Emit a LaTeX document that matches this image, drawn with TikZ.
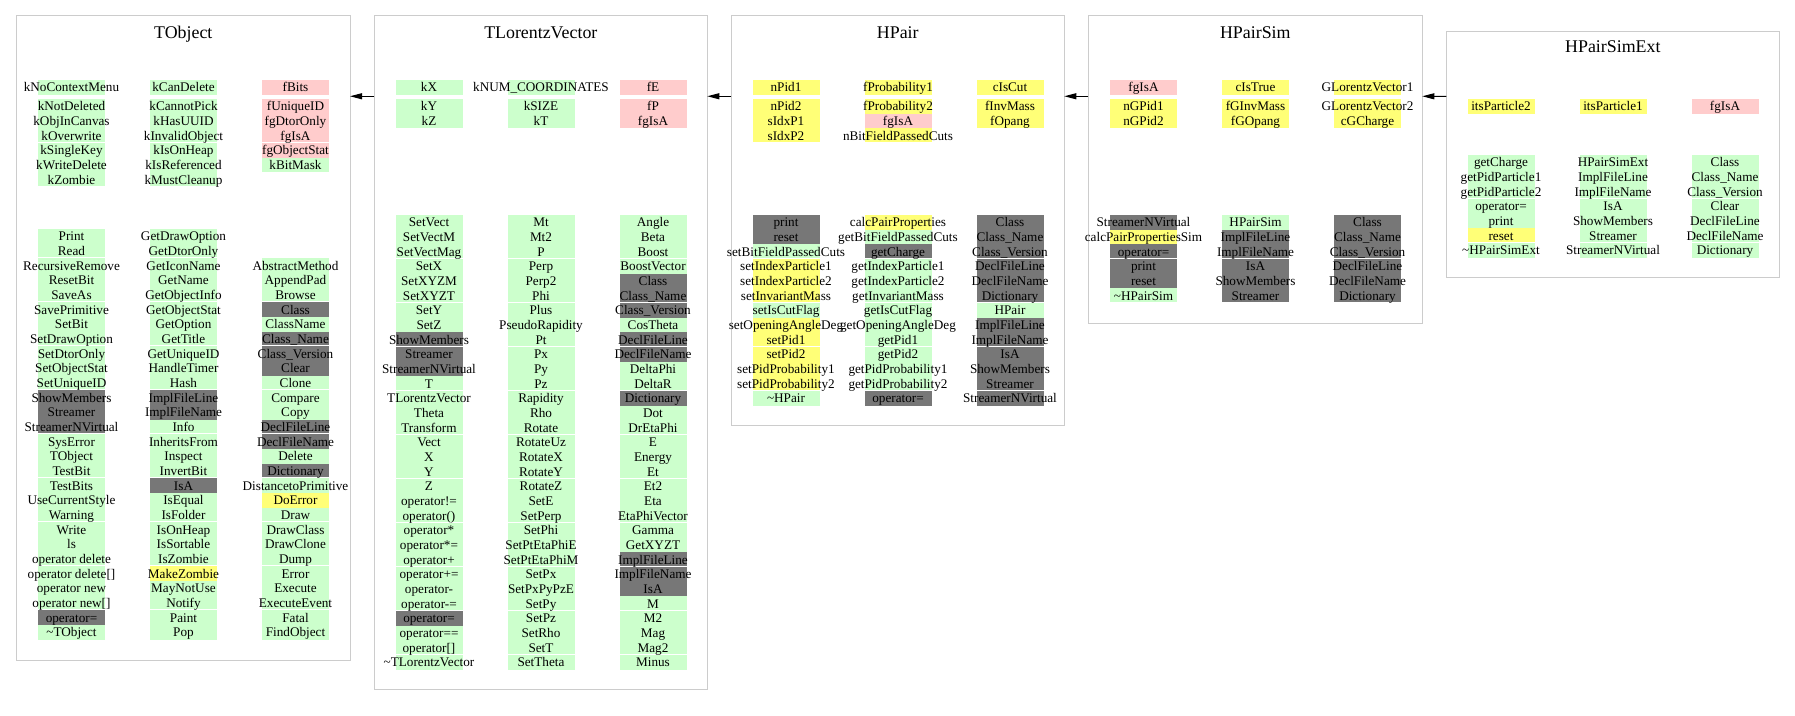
\documentclass[tikz,border=0pt]{standalone}
\usepackage{fontspec}
\setmainfont{Liberation Serif}
\usetikzlibrary{arrows.meta}
\definecolor{cg}{HTML}{CCFFCC}
\definecolor{cr}{HTML}{FFCCCC}
\definecolor{cy}{HTML}{FFFF77}
\definecolor{ck}{HTML}{777777}
\definecolor{cb}{HTML}{CCCCCC}
\newcommand\RowP{14.6667}
% #1 name prefix, #2 x centre, #3 section top, #4 first row index, #5 separator residue, #6 list colour/text
\newcommand\cellcol[6]{%
  \foreach \cellc/\cellt [count=\n from 0] in {#6} {%
    \pgfmathtruncatemacro\gi{#4+\n}%
    \pgfmathsetmacro\yt{#3+\gi*\RowP}%
    \pgfmathsetmacro\yb{\yt+\RowP-1.0*(mod(\gi,3)==#5)}%
    \pgfmathsetmacro\ym{\yt+\RowP/2}%
    \fill[\cellc] (#2-33.5,\yt) rectangle (#2+33.5,\yb);
    \node[txt] (#1-\gi) at (#2,\ym) {\cellt};
  }%
}
\newcommand\clsframe[5]{%
  \node[clsbox, minimum width={(#4-#2)*0.75pt}, minimum height={(#5-#3)*0.75pt}, anchor=north west] (#1) at (#2,#3) {};%
}
\tikzset{
  txt/.style={inner sep=0pt, font=\fontsize{9.9}{11}\selectfont, text height=6.6pt, text depth=0pt},
  ttl/.style={inner sep=0pt, anchor=base, font=\fontsize{13.4}{15}\selectfont},
  clsbox/.style={draw=cb, line width=0.75pt, inner sep=0pt, outer sep=0pt},
  inh/.style={draw=black, line width=0.75pt, -{Triangle[length=9pt,width=4.5pt]}}
}
\begin{document}
\begin{tikzpicture}[x=0.75pt,y=-0.75pt]
\useasboundingbox (0,0) rectangle (1795,716);
% ---------------- TObject
\clsframe{tobj}{16.7}{16}{350}{660}
\node[ttl] (tobjT) at (183.3,38.3) {TObject};
\cellcol{toA1}{71.5}{80}{0}{-1}{cg/kNoContextMenu}
\cellcol{toA}{71.5}{99}{0}{2}{cg/kNotDeleted, cg/kObjInCanvas, cg/kOverwrite, cg/kSingleKey, cg/kWriteDelete, cg/kZombie}
\cellcol{toB1}{183.5}{80}{0}{-1}{cg/kCanDelete}
\cellcol{toB}{183.5}{99}{0}{2}{cg/kCannotPick, cg/kHasUUID, cg/kInvalidObject, cg/kIsOnHeap, cg/kIsReferenced, cg/kMustCleanup}
\cellcol{toC1}{295.5}{80}{0}{-1}{cr/fBits}
\cellcol{toC}{295.5}{99}{0}{2}{cr/fUniqueID, cr/fgDtorOnly, cr/fgIsA, cr/fgObjectStat, cg/kBitMask}
\cellcol{toL}{71.5}{229}{0}{1}{cg/Print, cg/Read, cg/RecursiveRemove, cg/ResetBit, cg/SaveAs, cg/SavePrimitive, cg/SetBit, cg/SetDrawOption, cg/SetDtorOnly, cg/SetObjectStat, cg/SetUniqueID, ck/ShowMembers, ck/Streamer, ck/StreamerNVirtual, cg/SysError, cg/TObject, cg/TestBit, cg/TestBits, cg/UseCurrentStyle, cg/Warning, cg/Write, cg/ls, cg/operator delete, cg/operator delete[], cg/operator new, cg/operator new[], ck/operator=, cg/\textasciitilde TObject}
\cellcol{toM}{183.5}{229}{0}{1}{cg/GetDrawOption, cg/GetDtorOnly, cg/GetIconName, cg/GetName, cg/GetObjectInfo, cg/GetObjectStat, cg/GetOption, cg/GetTitle, cg/GetUniqueID, cg/HandleTimer, cg/Hash, ck/ImplFileLine, ck/ImplFileName, cg/Info, cg/InheritsFrom, cg/Inspect, cg/InvertBit, ck/IsA, cg/IsEqual, cg/IsFolder, cg/IsOnHeap, cg/IsSortable, cg/IsZombie, cy/MakeZombie, cg/MayNotUse, cg/Notify, cg/Paint, cg/Pop}
\cellcol{toN}{295.5}{229}{2}{1}{cg/AbstractMethod, cg/AppendPad, cg/Browse, ck/Class, cg/ClassName, ck/Class\_Name, ck/Class\_Version, ck/Clear, cg/Clone, cg/Compare, cg/Copy, ck/DeclFileLine, ck/DeclFileName, cg/Delete, ck/Dictionary, cg/DistancetoPrimitive, cy/DoError, cg/Draw, cg/DrawClass, cg/DrawClone, cg/Dump, cg/Error, cg/Execute, cg/ExecuteEvent, cg/Fatal, cg/FindObject}
% ---------------- TLorentzVector
\clsframe{tlv}{374.3}{16}{707.3}{689}
\node[ttl] (tlvT) at (540.8,38.3) {TLorentzVector};
\cellcol{tlA1}{429}{80}{0}{-1}{cg/kX}
\cellcol{tlA}{429}{99}{0}{2}{cg/kY, cg/kZ}
\cellcol{tlB1}{541}{80}{0}{-1}{cg/kNUM\_COORDINATES}
\cellcol{tlB}{541}{99}{0}{2}{cg/kSIZE, cg/kT}
\cellcol{tlC1}{653}{80}{0}{-1}{cr/fE}
\cellcol{tlC}{653}{99}{0}{2}{cr/fP, cr/fgIsA}
\cellcol{tlL}{429}{215}{0}{2}{cg/SetVect, cg/SetVectM, cg/SetVectMag, cg/SetX, cg/SetXYZM, cg/SetXYZT, cg/SetY, cg/SetZ, ck/ShowMembers, ck/Streamer, ck/StreamerNVirtual, cg/T, cg/TLorentzVector, cg/Theta, cg/Transform, cg/Vect, cg/X, cg/Y, cg/Z, cg/operator!=, cg/operator(), cg/operator*, cg/operator*=, cg/operator+, cg/operator+=, cg/operator-, cg/operator-=, ck/operator=, cg/operator==, cg/operator[], cg/\textasciitilde TLorentzVector}
\cellcol{tlM}{541}{215}{0}{2}{cg/Mt, cg/Mt2, cg/P, cg/Perp, cg/Perp2, cg/Phi, cg/Plus, cg/PseudoRapidity, cg/Pt, cg/Px, cg/Py, cg/Pz, cg/Rapidity, cg/Rho, cg/Rotate, cg/RotateUz, cg/RotateX, cg/RotateY, cg/RotateZ, cg/SetE, cg/SetPerp, cg/SetPhi, cg/SetPtEtaPhiE, cg/SetPtEtaPhiM, cg/SetPx, cg/SetPxPyPzE, cg/SetPy, cg/SetPz, cg/SetRho, cg/SetT, cg/SetTheta}
\cellcol{tlN}{653}{215}{0}{2}{cg/Angle, cg/Beta, cg/Boost, cg/BoostVector, ck/Class, ck/Class\_Name, ck/Class\_Version, cg/CosTheta, ck/DeclFileLine, ck/DeclFileName, cg/DeltaPhi, cg/DeltaR, ck/Dictionary, cg/Dot, cg/DrEtaPhi, cg/E, cg/Energy, cg/Et, cg/Et2, cg/Eta, cg/EtaPhiVector, cg/Gamma, cg/GetXYZT, ck/ImplFileLine, ck/ImplFileName, ck/IsA, cg/M, cg/M2, cg/Mag, cg/Mag2, cg/Minus}
% ---------------- HPair
\clsframe{hp}{731.3}{16}{1064.3}{425.3}
\node[ttl] (hpT) at (897.8,38.3) {HPair};
\cellcol{hpA1}{786}{80}{0}{-1}{cy/nPid1}
\cellcol{hpA}{786}{99}{0}{2}{cy/nPid2, cy/sIdxP1, cy/sIdxP2}
\cellcol{hpB1}{898}{80}{0}{-1}{cy/fProbability1}
\cellcol{hpB}{898}{99}{0}{2}{cy/fProbability2, cr/fgIsA, cy/nBitFieldPassedCuts}
\cellcol{hpC1}{1010}{80}{0}{-1}{cy/cIsCut}
\cellcol{hpC}{1010}{99}{0}{2}{cy/fInvMass, cy/fOpang}
\cellcol{hpL}{786}{215}{0}{2}{ck/print, ck/reset, cg/setBitFieldPassedCuts, cy/setIndexParticle1, cy/setIndexParticle2, cy/setInvariantMass, cg/setIsCutFlag, cy/setOpeningAngleDeg, cy/setPid1, cy/setPid2, cy/setPidProbability1, cy/setPidProbability2, cg/\textasciitilde HPair}
\cellcol{hpM}{898}{215}{0}{2}{cy/calcPairProperties, cg/getBitFieldPassedCuts, ck/getCharge, cg/getIndexParticle1, cg/getIndexParticle2, cg/getInvariantMass, cg/getIsCutFlag, cg/getOpeningAngleDeg, cg/getPid1, cg/getPid2, cg/getPidProbability1, cg/getPidProbability2, ck/operator=}
\cellcol{hpN}{1010}{215}{0}{2}{ck/Class, ck/Class\_Name, ck/Class\_Version, ck/DeclFileLine, ck/DeclFileName, ck/Dictionary, cg/HPair, ck/ImplFileLine, ck/ImplFileName, ck/IsA, ck/ShowMembers, ck/Streamer, ck/StreamerNVirtual}
% ---------------- HPairSim
\clsframe{hps}{1088.3}{16}{1422.3}{323.3}
\node[ttl] (hpsT) at (1255.3,38.3) {HPairSim};
\cellcol{hsA1}{1143.5}{80}{0}{-1}{cr/fgIsA}
\cellcol{hsA}{1143.5}{99}{0}{2}{cy/nGPid1, cy/nGPid2}
\cellcol{hsB1}{1255.5}{80}{0}{-1}{cy/cIsTrue}
\cellcol{hsB}{1255.5}{99}{0}{2}{cy/fGInvMass, cy/fGOpang}
\cellcol{hsC1}{1367.5}{80}{0}{-1}{cy/GLorentzVector1}
\cellcol{hsC}{1367.5}{99}{0}{2}{cy/GLorentzVector2, cy/cGCharge}
\cellcol{hsL}{1143.5}{215}{0}{2}{ck/StreamerNVirtual, cy/calcPairPropertiesSim, ck/operator=, ck/print, ck/reset, cg/\textasciitilde HPairSim}
\cellcol{hsM}{1255.5}{215}{0}{2}{cg/HPairSim, ck/ImplFileLine, ck/ImplFileName, ck/IsA, ck/ShowMembers, ck/Streamer}
\cellcol{hsN}{1367.5}{215}{0}{2}{ck/Class, ck/Class\_Name, ck/Class\_Version, ck/DeclFileLine, ck/DeclFileName, ck/Dictionary}
% ---------------- HPairSimExt
\clsframe{hpse}{1446.3}{31.7}{1779.3}{277.3}
\node[ttl] (hpseT) at (1612.8,52.7) {HPairSimExt};
\cellcol{heA}{1501}{99}{0}{-1}{cy/itsParticle2}
\cellcol{heB}{1613}{99}{0}{-1}{cy/itsParticle1}
\cellcol{heC}{1725}{99}{0}{-1}{cr/fgIsA}
\cellcol{heL}{1501}{155}{0}{2}{cg/getCharge, cg/getPidParticle1, cg/getPidParticle2, cg/operator=, cg/print, cy/reset, cg/\textasciitilde HPairSimExt}
\cellcol{heM}{1613}{155}{0}{2}{cg/HPairSimExt, cg/ImplFileLine, cg/ImplFileName, cg/IsA, cg/ShowMembers, cg/Streamer, cg/StreamerNVirtual}
\cellcol{heN}{1725}{155}{0}{2}{cg/Class, cg/Class\_Name, cg/Class\_Version, cg/Clear, cg/DeclFileLine, cg/DeclFileName, cg/Dictionary}
% ---------------- inheritance arrows
\draw[inh] ([yshift=-60.2pt]tlv.north west) -- ([yshift=-60.2pt]tobj.north east);
\draw[inh] ([yshift=-60.2pt]hp.north west) -- ([yshift=-60.2pt]tlv.north east);
\draw[inh] ([yshift=-60.2pt]hps.north west) -- ([yshift=-60.2pt]hp.north east);
\draw[inh] ([yshift=-48.5pt]hpse.north west) -- ([yshift=-60.2pt]hps.north east);
\end{tikzpicture}
\end{document}
